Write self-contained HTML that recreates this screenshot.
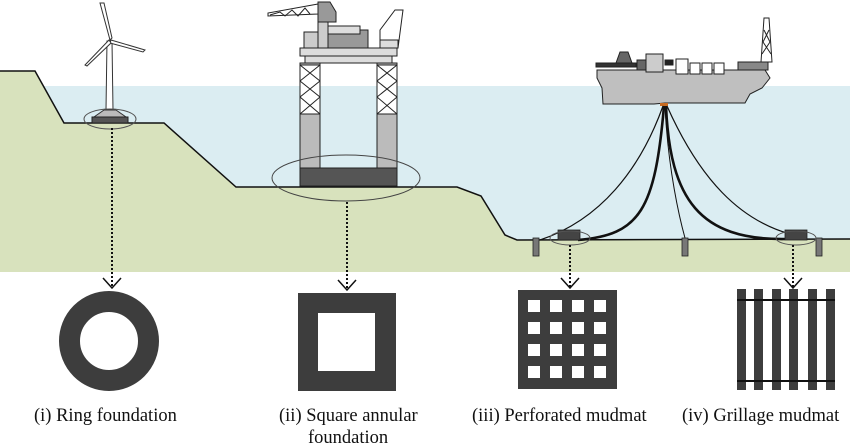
<!DOCTYPE html>
<html><head><meta charset="utf-8"><style>
html,body{margin:0;padding:0;background:#fff;width:850px;height:444px;overflow:hidden}
svg text{font-family:"Liberation Serif",serif;font-size:18.5px;fill:#111}
</style></head><body>
<svg width="850" height="444" viewBox="0 0 850 444" xmlns="http://www.w3.org/2000/svg">
<rect x="0" y="86" width="850" height="154" fill="#dbedf2"/>
<polygon points="0,71 35,71 64,123 164,123 236,187 457,187 481,196 505,235 517,240 850,239 850,272 0,272" fill="#d8e2bd"/>
<polyline points="0,71 35,71 64,123 164,123 236,187 457,187 481,196 505,235 517,240 850,239" fill="none" stroke="#111" stroke-width="1.5"/>

<polygon points="107,41 112,41 113,110 106,110" fill="#fff" stroke="#333" stroke-width="1"/>
<polygon points="110,40 100,3 104,3 112,38" fill="#fff" stroke="#333"/>
<polygon points="111,40 145,50 143,52 110,43" fill="#fff" stroke="#333"/>
<polygon points="109,40 85,65 87,66 111,43" fill="#fff" stroke="#333"/>
<polygon points="104,110 116,110 126,117 94,117" fill="#bbb" stroke="#333"/>
<rect x="92" y="117" width="36" height="6" fill="#555" stroke="#222"/>
<ellipse cx="110" cy="119" rx="26" ry="10" fill="none" stroke="#555"/>

<g stroke="#222" stroke-width="1">
<rect x="300" y="63" width="20" height="105" fill="#bbb"/>
<rect x="377" y="63" width="20" height="105" fill="#bbb"/>
<g fill="#fff"><rect x="300" y="65" width="20" height="49"/><rect x="377" y="65" width="20" height="49"/></g>
<path d="M300,65 L320,81 M320,65 L300,81 M300,81 L320,97 M320,81 L300,97 M300,97 L320,114 M320,97 L300,114 M377,65 L397,81 M397,65 L377,81 M377,81 L397,97 M397,81 L377,97 M377,97 L397,114 M397,97 L377,114" fill="none"/>
<rect x="300" y="168" width="97" height="18" fill="#555"/>
<rect x="300" y="48" width="97" height="8" fill="#ddd"/>
<rect x="305" y="56" width="87" height="7" fill="#ddd"/>
<rect x="304" y="32" width="20" height="16" fill="#ccc"/>
<rect x="318" y="30" width="50" height="18" fill="#999"/>
<rect x="328" y="26" width="32" height="8" fill="#ddd"/>
<rect x="318" y="2" width="10" height="46" fill="#ccc"/>
<polygon points="318,2 330,2 336,12 336,22 318,22" fill="#999"/>
<polygon points="318,4 268,13 268,16 318,14" fill="#fff"/>
<path d="M270,15 L280,12 L285,16 L292,10 L298,16 L305,8 L310,14" fill="none"/>
<polygon points="380,48 380,30 395,10 403,10 398,48" fill="#fff"/>
<rect x="380" y="40" width="18" height="8" fill="#ddd"/>
</g>
<ellipse cx="346" cy="178" rx="74" ry="23" fill="none" stroke="#444" stroke-width="1"/>

<g stroke="#222" stroke-width="1">
<polygon points="597,70 765,70 770,78 762,88 750,94 745,103 665,103 654,104 603,104 602,88 597,78" fill="#bfbfbf"/>
<rect x="637" y="60" width="10" height="10" fill="#666"/>
<rect x="646" y="54" width="17" height="18" fill="#ccc"/>
<rect x="596" y="63" width="40" height="4" fill="#333"/>
<polygon points="616,63 620,52 628,52 632,63" fill="#666"/>
<rect x="676" y="59" width="12" height="15" fill="#fff"/>
<rect x="690" y="63" width="10" height="11" fill="#fff"/>
<rect x="702" y="63" width="10" height="11" fill="#fff"/>
<rect x="714" y="63" width="10" height="11" fill="#fff"/>
<rect x="665" y="60" width="8" height="5" fill="#222"/>
<rect x="738" y="62" width="30" height="8" fill="#888"/>
<polygon points="761,62 764,18 769,18 772,62" fill="#fff"/>
<path d="M764,30 L770,42 M769,30 L763,42 M763,42 L771,54 M770,42 L762,54" fill="none"/>
</g>
<rect x="660" y="103" width="8" height="3" fill="#c86a20"/>

<g fill="none" stroke="#111">
<path d="M663,106 C640,170 600,220 540,240" stroke-width="1.2"/>
<path d="M664,106 C655,210 640,235 578,240" stroke-width="2.6"/>
<path d="M665,106 C668,170 680,220 685,238" stroke-width="1"/>
<path d="M666,106 C670,200 700,240 785,239" stroke-width="2.6"/>
<path d="M667,106 C700,180 740,220 790,234" stroke-width="1.2"/>
</g>
<g fill="#777" stroke="#222" stroke-width="0.8">
<rect x="533" y="238" width="6" height="18"/><rect x="682" y="238" width="6" height="18"/><rect x="816" y="238" width="6" height="18"/>
<rect x="558" y="230" width="22" height="10" fill="#444"/><rect x="785" y="230" width="22" height="10" fill="#444"/>
</g>
<ellipse cx="570" cy="238" rx="20" ry="7" fill="none" stroke="#555"/>
<ellipse cx="796" cy="238" rx="20" ry="7" fill="none" stroke="#555"/>

<g stroke="#111" stroke-width="2" stroke-dasharray="2,2" fill="none">
<line x1="112" y1="128" x2="112" y2="287"/><line x1="347" y1="202" x2="347" y2="289"/>
<line x1="570" y1="245" x2="570" y2="287"/><line x1="793" y1="245" x2="793" y2="287"/>
</g>
<g stroke="#111" stroke-width="1.5" fill="none">
<path d="M103,278 L112,288 L121,278"/><path d="M338,280 L347,290 L356,280"/>
<path d="M561,278 L570,288 L579,278"/><path d="M784,278 L793,288 L802,278"/>
</g>

<circle cx="109" cy="341" r="39.5" fill="none" stroke="#3d3d3d" stroke-width="21"/>
<path d="M298,293 H396 V391 H298 Z M318,313 V371 H375 V313 Z" fill="#3d3d3d" fill-rule="evenodd"/>
<rect x="518" y="290" width="99" height="99" fill="#3d3d3d"/>
<g fill="#fff">
<rect x="528" y="300" width="12" height="12"/><rect x="550" y="300" width="12" height="12"/><rect x="572" y="300" width="12" height="12"/><rect x="594" y="300" width="12" height="12"/>
<rect x="528" y="322" width="12" height="12"/><rect x="550" y="322" width="12" height="12"/><rect x="572" y="322" width="12" height="12"/><rect x="594" y="322" width="12" height="12"/>
<rect x="528" y="344" width="12" height="12"/><rect x="550" y="344" width="12" height="12"/><rect x="572" y="344" width="12" height="12"/><rect x="594" y="344" width="12" height="12"/>
<rect x="528" y="366" width="12" height="12"/><rect x="550" y="366" width="12" height="12"/><rect x="572" y="366" width="12" height="12"/><rect x="594" y="366" width="12" height="12"/>
</g>
<g fill="#3d3d3d">
<rect x="737" y="289" width="9" height="101"/><rect x="754" y="289" width="9" height="101"/><rect x="772" y="289" width="9" height="101"/>
<rect x="789" y="289" width="9" height="101"/><rect x="808" y="289" width="9" height="101"/><rect x="826" y="289" width="9" height="101"/>
</g>
<rect x="737" y="299" width="98" height="2" fill="#111"/>
<rect x="737" y="380" width="98" height="2" fill="#111"/>

<text x="34" y="421">(i) Ring foundation</text>
<text x="279" y="421">(ii) Square annular</text>
<text x="308" y="443">foundation</text>
<text x="472" y="421">(iii) Perforated mudmat</text>
<text x="682" y="421">(iv) Grillage mudmat</text>
</svg>
</body></html>
